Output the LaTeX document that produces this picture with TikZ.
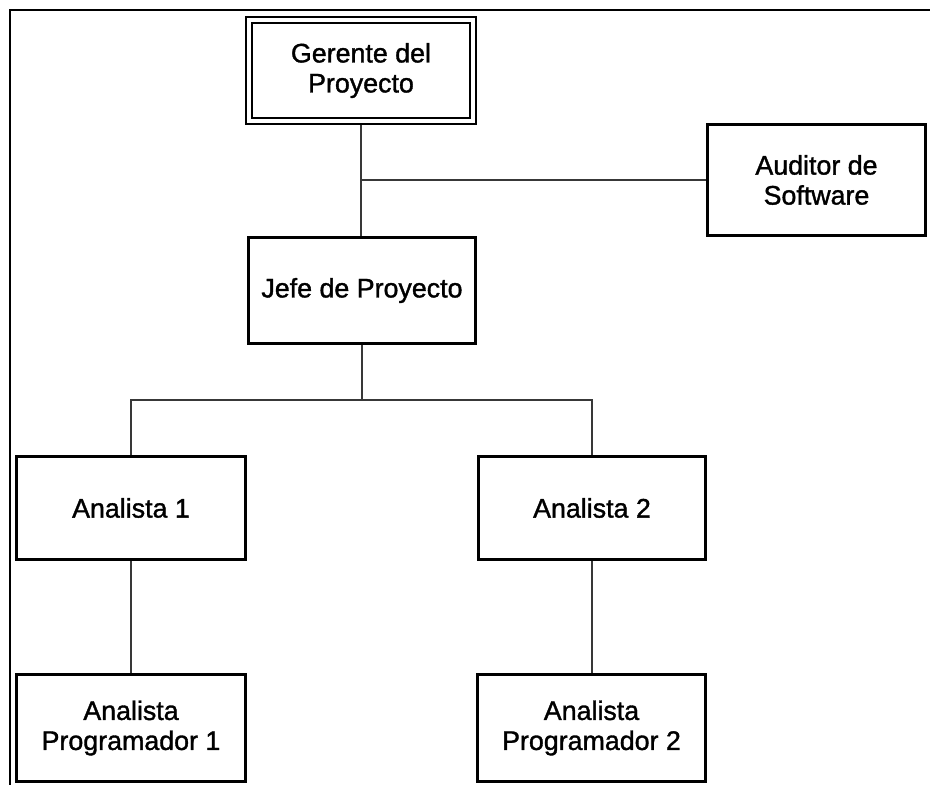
\documentclass[tikz,border=0pt]{standalone}
\usepackage{fontspec}
\setmainfont{Liberation Sans}
\newfontfamily\boxfont[FakeBold=1.3]{Liberation Sans}
\begin{document}
\begin{tikzpicture}[x=1pt,y=-1pt,
  box/.style={draw=black, line width=2.8pt, rectangle, inner sep=0pt,
    align=center, font=\boxfont\fontsize{26.8}{30}\selectfont},
  mainbox/.style={box, line width=2pt, double=white, double distance=4pt,
    outer sep=4pt},
  link/.style={draw=black!78, line width=1.6pt},
  frame/.style={draw=black, line width=2.8pt}]
  \useasboundingbox (0,0) rectangle (930,785);

  % outer frame (top and left sides)
  \draw[frame] (10,786) -- (10,10) -- (931,10);

  % boxes
  \node[mainbox, minimum width=224pt, minimum height=101pt] (ger) at (361,70.5)
    {Gerente del\\Proyecto};
  \node[box, minimum width=218pt, minimum height=111pt] (aud) at (816.5,180)
    {Auditor de\\Software};
  \node[box, minimum width=227pt, minimum height=106pt] (jefe) at (362,290.5)
    {Jefe de Proyecto};
  \node[box, minimum width=229pt, minimum height=103pt] (an1) at (131,508)
    {Analista 1};
  \node[box, minimum width=227pt, minimum height=103pt] (an2) at (592,508)
    {Analista 2};
  \node[box, minimum width=229pt, minimum height=107pt] (ap1) at (131,728)
    {Analista\\Programador 1};
  \node[box, minimum width=228pt, minimum height=107pt] (ap2) at (591.5,728)
    {Analista\\Programador 2};

  % connectors
  \coordinate (bus) at (362,400);
  \draw[link] (ger.south) -- (ger.south |- jefe.north);
  \draw[link] (aud.west -| ger.south) -- (aud.west);
  \draw[link] (jefe.south) -- (bus);
  \draw[link] (an1.north) |- (bus) -| (an2.north);
  \draw[link] (an1.south) -- (ap1.north);
  \draw[link] (an2.south) -- (an2.south |- ap2.north);
\end{tikzpicture}
\end{document}
